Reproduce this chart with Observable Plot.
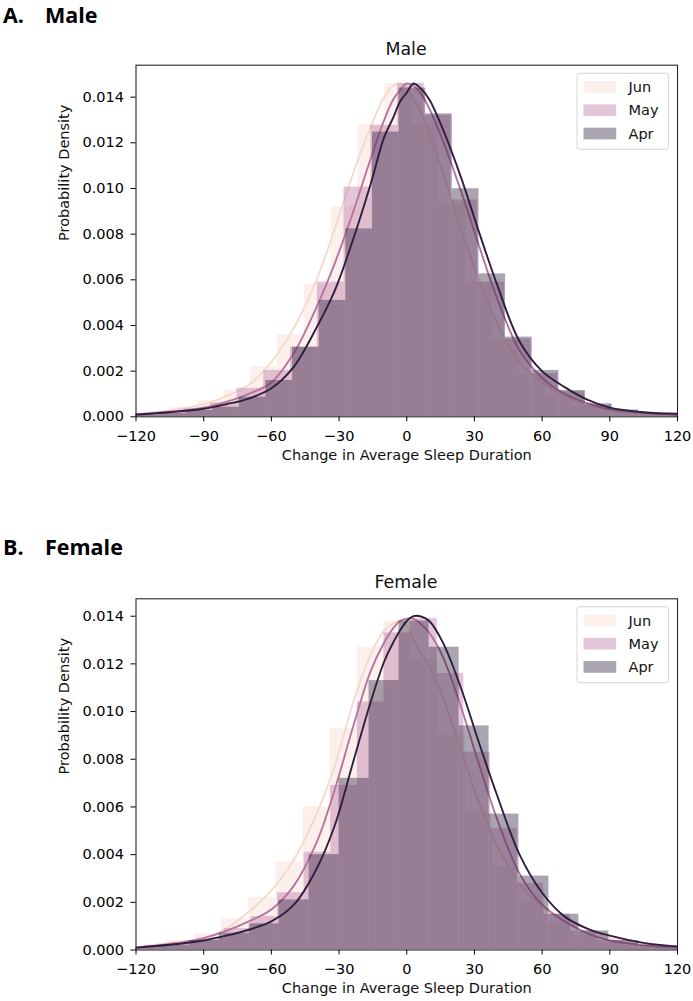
<!DOCTYPE html>
<html><head><meta charset="utf-8">
<script src="https://cdn.jsdelivr.net/npm/d3@7"></script>
<script src="https://cdn.jsdelivr.net/npm/@observablehq/plot@0.6"></script>
<style>
body{margin:0;background:#fff;}
#root{position:relative;width:693px;height:1001px;overflow:hidden;font-family:"DejaVu Sans";}
#root > svg.plotsvg{position:absolute;left:0;}
#overlay{position:absolute;left:0;top:0;}
</style></head><body><div id="root"></div>
<script>
// ---------- data ----------
const months = ["Jun", "May", "Apr"];
const monthColors = ["#f4dacc", "#b8739f", "#2e1e3f"];
const xTicks = [-120, -90, -60, -30, 0, 30, 60, 90, 120];
const yTicks = [0, 0.002, 0.004, 0.006, 0.008, 0.010, 0.012, 0.014];

// KDE curves (x grid shared)
const kdeX = [-120,-105,-90,-80,-70,-60,-50,-40,-32,-24,-16,-10,-6,-3,0,3,6,10,16,24,32,40,50,60,70,80,90,105,120];
const maleKdeJun = [0.00012,0.00028,0.00055,0.0009,0.0014,0.0024,0.0039,0.006,0.0082,0.0106,0.0127,0.014,0.0145,0.0146,0.0144,0.0139,0.0134,0.0124,0.0107,0.0083,0.006,0.0041,0.0024,0.0015,0.0009,0.0005,0.0003,0.00015,0.0001];
const maleKdeMay = [0.0001,0.00022,0.0004,0.00065,0.001,0.0015,0.0028,0.0048,0.0067,0.0089,0.0113,0.013,0.0139,0.0143,0.0146,0.0145,0.0142,0.0135,0.0121,0.0099,0.0075,0.0052,0.0029,0.0017,0.001,0.0006,0.00033,0.00018,0.0001];
const maleKdeApr = [0.0001,0.0002,0.00035,0.00055,0.0008,0.00125,0.0022,0.0039,0.0055,0.0077,0.0102,0.01225,0.0131,0.0138,0.0142,0.0146,0.0144,0.0139,0.0126,0.0105,0.0081,0.0058,0.0033,0.002,0.0013,0.00075,0.0004,0.0002,0.00013];
const femaleKdeJun = [0.0001,0.0003,0.0005,0.0009,0.0016,0.0025,0.0038,0.0057,0.0077,0.0103,0.0124,0.0134,0.0137,0.0138,0.0136,0.013,0.0125,0.0119,0.0106,0.0084,0.0062,0.0044,0.0028,0.0018,0.0012,0.0009,0.0005,0.00025,0.0001];
const femaleKdeMay = [0.0001,0.00025,0.0005,0.0008,0.0012,0.0017,0.0027,0.0045,0.0067,0.0093,0.0117,0.0129,0.0135,0.0138,0.0139,0.0139,0.0137,0.0133,0.0123,0.0102,0.0078,0.0055,0.0032,0.0019,0.0012,0.0007,0.0004,0.0002,0.0001];
const femaleKdeApr = [0.0001,0.00022,0.0004,0.0006,0.00085,0.0012,0.0019,0.0034,0.0052,0.0078,0.0104,0.0121,0.0129,0.0134,0.0138,0.014,0.014,0.0138,0.0129,0.011,0.0087,0.0065,0.004,0.0024,0.0014,0.0009,0.0006,0.0003,0.00015];

// Histograms: bin edges and densities
const maleEdgesJun = [-128.7,-116.8,-104.9,-93.0,-81.1,-69.2,-57.3,-45.4,-33.5,-21.6,-9.7,2.2,14.1,26.0,37.9,49.8,61.7,73.6,85.5,97.4,109.3,121.2];
const maleHistJun  = [0.0001,0.0002,0.0004,0.0007,0.0012,0.0022,0.0036,0.0058,0.0092,0.0128,0.0146,0.0128,0.0093,0.0059,0.0034,0.0019,0.001,0.0005,0.00025,0.00012,0.00006];
const maleEdgesMay = [-122.6,-110.75,-98.9,-87.05,-75.2,-63.35,-51.5,-39.65,-27.8,-15.95,-4.1,7.75,19.6,31.45,43.3,55.15,67.0,78.85,90.7,102.55,114.4,126.25];
const maleHistMay  = [0.0001,0.0002,0.00035,0.0006,0.00125,0.00203,0.00305,0.0059,0.01006,0.01276,0.0146,0.0132,0.0095,0.0059,0.0034,0.0019,0.0011,0.0005,0.00025,0.00013,0.00007];
const maleEdgesApr = [-121.4,-109.6,-97.8,-86.0,-74.2,-62.4,-50.6,-38.8,-27.0,-15.2,-3.4,8.4,20.2,32.0,43.8,55.6,67.4,79.2,91.0,102.8,114.6,126.4];
const maleHistApr  = [0.00008,0.00015,0.00028,0.00042,0.00086,0.00159,0.00305,0.0051,0.00823,0.01247,0.0144,0.01327,0.00999,0.00626,0.00349,0.00203,0.00115,0.00057,0.0003,0.00015,0.00008];

const femaleEdgesJun = [-130,-118,-106,-94,-82,-70,-58,-46,-34,-22,-10,2,14,26,38,50,62,74,86,98,110,122];
const femaleHistJun  = [0.0001,0.0002,0.0004,0.0007,0.0013,0.0022,0.0037,0.006,0.0093,0.0127,0.0138,0.0122,0.009,0.0058,0.0035,0.002,0.0011,0.0006,0.0003,0.00015,0.0001];
const femaleEdgesMay = [-128.1,-116.3,-104.5,-92.7,-80.9,-69.1,-57.3,-45.5,-33.7,-21.9,-10.1,1.7,13.5,25.3,37.1,48.9,60.7,72.5,84.3,96.1,107.9,119.7,131.5];
const femaleHistMay  = [0.0001,0.00015,0.0003,0.0005,0.0009,0.0014,0.0024,0.0041,0.0069,0.0104,0.0133,0.0139,0.0116,0.0083,0.0051,0.0028,0.0015,0.0008,0.0004,0.0002,0.0001,0.00005];
const femaleEdgesApr = [-123.0,-109.7,-96.4,-83.1,-69.8,-56.6,-43.3,-30.0,-16.7,-3.4,9.9,23.2,36.5,49.7,63.0,76.3,89.6,102.9,116.2,129.5];
const femaleHistApr  = [0.0001,0.0002,0.0004,0.0007,0.0011,0.0021,0.004,0.0072,0.0113,0.0138,0.0127,0.0094,0.0057,0.0031,0.0015,0.0008,0.0004,0.0002,0.0001];

// ---------- drawing ----------
const FONT = "DejaVu Sans";
const FS = 14.5;

function panel(cfg) {
  const marks = [];
  months.forEach((m, i) => {
    const edges = cfg.edges[i], dens = cfg.hist[i];
    const bars = dens.map((v, j) => ({month: m, x1: edges[j], x2: edges[j + 1], y: v}));
    const pts = kdeX.map((x, j) => ({month: m, x, y: cfg.kde[i][j]}));
    marks.push(Plot.rect(bars, {x1: "x1", x2: "x2", y1: () => 0, y2: "y", fill: "month", fillOpacity: 0.4, clip: true}));
    marks.push(Plot.line(pts, {x: "x", y: "y", stroke: "month", strokeWidth: 1.9, curve: "catmull-rom", clip: true}));
  });
  marks.push(Plot.frame({stroke: "#262626", strokeWidth: 1.1}));
  marks.push(Plot.axisX({ticks: xTicks, tickFormat: d3.format("d"), tickSize: 5, tickPadding: 9, label: null, fontSize: FS}));
  marks.push(Plot.axisY({ticks: yTicks, tickFormat: d3.format(".3f"), tickSize: 5, tickPadding: 7, label: null, fontSize: FS}));
  marks.push(Plot.text(["Probability Density"], {frameAnchor: "left", rotate: -90, dx: -72, fontSize: FS, fill: "#111"}));
  marks.push(Plot.text(["Change in Average Sleep Duration"], {frameAnchor: "bottom", dy: 43, fontSize: FS, fill: "#111"}));
  const svg = Plot.plot({
    width: 693, height: cfg.height,
    marginLeft: 135.5, marginRight: 16, marginTop: cfg.marginTop, marginBottom: cfg.marginBottom,
    style: {fontFamily: FONT, fontSize: FS + "px", color: "#000", background: "transparent", overflow: "visible"},
    x: {domain: [-120, 120]},
    y: {domain: [0, cfg.ymax]},
    color: {domain: months, range: monthColors},
    marks
  });
  svg.classList.add("plotsvg");
  svg.style.top = cfg.top + "px";
  return svg;
}

const root = document.getElementById("root");
root.appendChild(panel({
  top: 60, height: 420, marginTop: 4.7, marginBottom: 63.7, ymax: 0.0154,
  edges: [maleEdgesJun, maleEdgesMay, maleEdgesApr],
  hist: [maleHistJun, maleHistMay, maleHistApr],
  kde: [maleKdeJun, maleKdeMay, maleKdeApr]
}));
root.appendChild(panel({
  top: 590, height: 411, marginTop: 8.3, marginBottom: 51.5, ymax: 0.01473,
  edges: [femaleEdgesJun, femaleEdgesMay, femaleEdgesApr],
  hist: [femaleHistJun, femaleHistMay, femaleHistApr],
  kde: [femaleKdeJun, femaleKdeMay, femaleKdeApr]
}));

// overlay: headings, titles, legends
const ov = d3.select(root).append("svg").attr("id", "overlay").attr("width", 693).attr("height", 1001);
function heading(letter, word, baseline) {
  ov.append("text").attr("x", 3).attr("y", baseline).text(letter)
    .attr("font-family", "Open Sans").attr("font-weight", 700).attr("font-size", 21.5).attr("fill", "#000");
  ov.append("text").attr("x", 45).attr("y", baseline).text(word)
    .attr("font-family", "Open Sans").attr("font-weight", 700).attr("font-size", 21.5).attr("fill", "#000");
}
heading("A.", "Male", 23);
heading("B.", "Female", 555);
function title(t, baseline) {
  ov.append("text").attr("x", 406).attr("y", baseline).attr("text-anchor", "middle").text(t)
    .attr("font-family", FONT).attr("font-size", 17.4).attr("fill", "#111");
}
title("Male", 54.5);
title("Female", 588);
function legend(top) {
  const g = ov.append("g").attr("transform", `translate(577,${top})`);
  g.append("rect").attr("x", 0).attr("y", 0).attr("width", 91.5).attr("height", 76).attr("rx", 3)
    .attr("fill", "#fff").attr("fill-opacity", 0.8).attr("stroke", "#d6d6d6").attr("stroke-width", 1);
  months.forEach((m, i) => {
    const cy = 13.6 + i * 23.3;
    g.append("rect").attr("x", 6.5).attr("y", cy - 5.8).attr("width", 32.7).attr("height", 11.7)
      .attr("fill", monthColors[i]).attr("fill-opacity", 0.4);
    g.append("text").attr("x", 51.5).attr("y", cy).attr("dy", "0.36em").text(m)
      .attr("font-family", FONT).attr("font-size", FS).attr("fill", "#111");
  });
}
legend(73.3);
legend(606.7);
</script></body></html>
